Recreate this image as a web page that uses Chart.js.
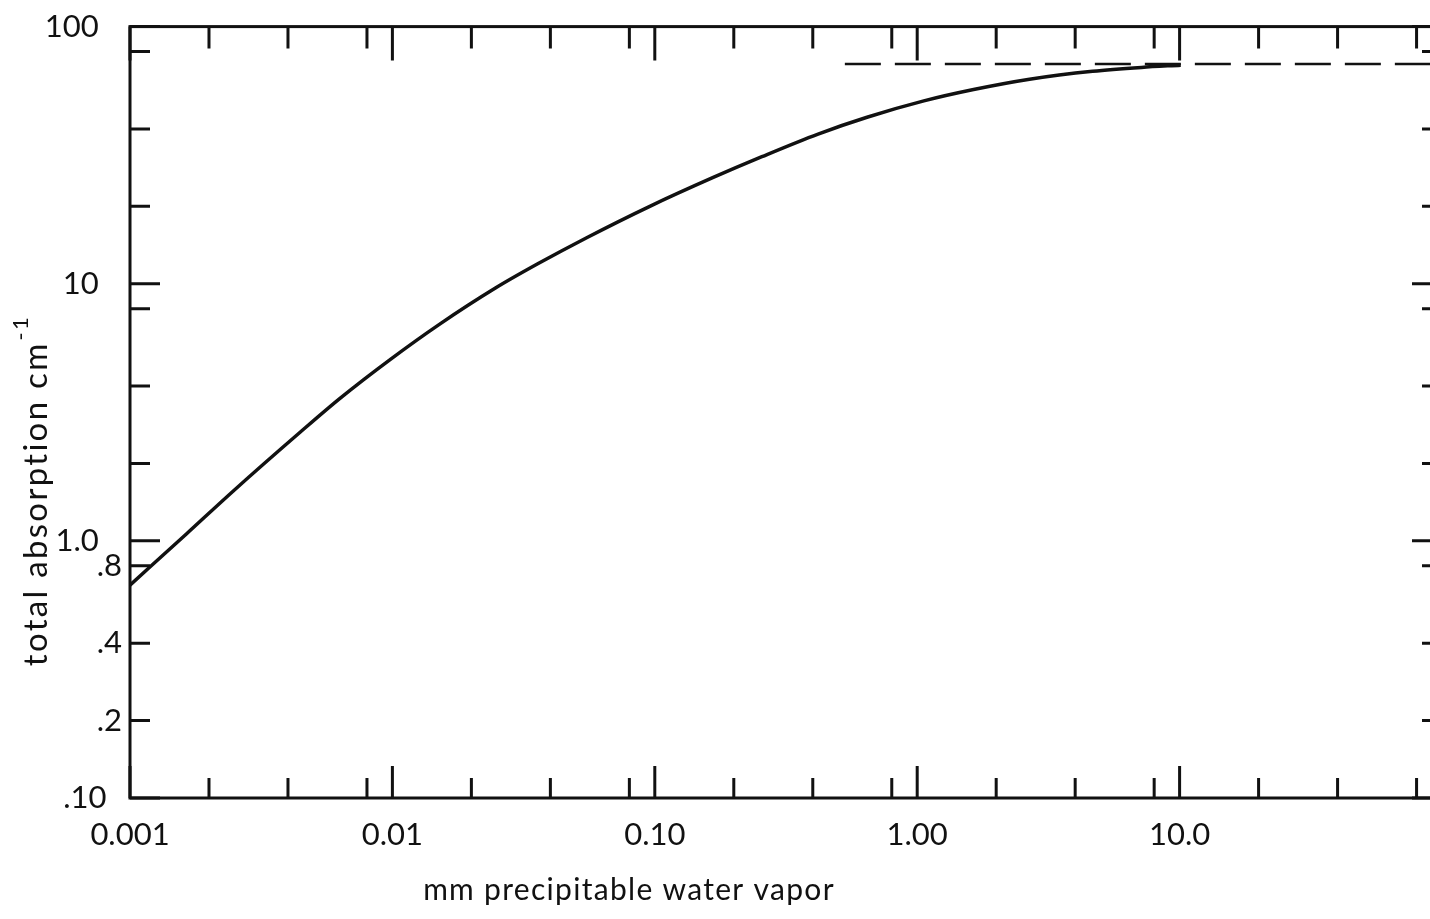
<!DOCTYPE html>
<html>
<head>
<meta charset="utf-8">
<title>total absorption - mm precipitable water vapor</title>
<script src="https://cdn.jsdelivr.net/npm/chart.js@4.4.1/dist/chart.umd.min.js"></script>
<style>
  html, body { margin: 0; padding: 0; background: #fff; overflow: hidden; }
  canvas { display: block; }
</style>
</head>
<body>
<canvas id="absorcionChart" width="1460" height="919"></canvas>
<script>
// curva: agua precipitable (mm) vs absorción total (cm^-1)
const vaporMm = [0.001, 0.00164, 0.00247, 0.00446, 0.00633, 0.00983, 0.0151, 0.0247, 0.0358, 0.055,
                 0.0957, 0.167, 0.256, 0.419, 0.644, 1.06, 1.64, 2.68, 4.66, 7.16, 10.1];
const absorcionTotal = [0.673, 1.064, 1.56, 2.65, 3.59, 5.08, 6.95, 9.62, 11.95, 15.1,
                        20.0, 25.9, 31.2, 38.2, 44.4, 51.4, 56.9, 62.4, 67.0, 69.4, 70.8];

// nivel de saturación (línea discontinua)
const saturacionX = [0.53, 100];
const saturacionY = [71.5, 71.5];

// ejes
const xDecadas = [0.001, 0.01, 0.1, 1, 10, 100];
const xEtiquetas = ["0.001", "0.01", "0.10", "1.00", "10.0", ""];
const subdivisiones = [2, 4, 8];
const yValores = [0.1, 0.2, 0.4, 0.8, 1, 10, 100];
const yEtiquetas = [".10\u2002", ".2", ".4", ".8", "1.0\u2003", "10\u2003", "100\u2003"];
const yDecadas = [0.1, 1, 10, 100];

const fuente = "Lato, 'DejaVu Sans', sans-serif";

// marco, marcas hacia dentro y títulos de los ejes
const marcoPlugin = {
    id: "marcoPlugin",
    afterDraw(chart) {
        const { ctx, chartArea: a, scales } = chart;
        const sx = scales.x, sy = scales.y;
        ctx.save();
        ctx.strokeStyle = "#111";
        ctx.lineWidth = 3;
        ctx.strokeRect(a.left, a.top, a.right - a.left, a.bottom - a.top);

        ctx.beginPath();
        xDecadas.forEach((d, i) => {
            const marcas = [[d, 32]];
            if (i < xDecadas.length - 1) subdivisiones.forEach(m => marcas.push([d * m, 20]));
            marcas.forEach(([v, largo]) => {
                const px = sx.getPixelForValue(v);
                ctx.moveTo(px, a.bottom); ctx.lineTo(px, a.bottom - largo);
                ctx.moveTo(px, a.top); ctx.lineTo(px, a.top + largo + 2);
            });
        });
        yDecadas.forEach((d, i) => {
            const marcas = [[d, 30]];
            if (i < yDecadas.length - 1) subdivisiones.forEach(m => marcas.push([d * m, 20]));
            marcas.forEach(([v, largo]) => {
                const py = sy.getPixelForValue(v);
                ctx.moveTo(a.left, py); ctx.lineTo(a.left + largo, py);
                ctx.moveTo(a.right, py); ctx.lineTo(a.right - largo, py);
            });
        });
        ctx.stroke();

        // títulos
        ctx.fillStyle = "#111";
        ctx.font = "30px " + fuente;
        ctx.letterSpacing = "1.3px";
        ctx.textAlign = "center";
        ctx.textBaseline = "middle";
        ctx.fillText("mm precipitable water vapor", 629, 890);

        ctx.translate(36, 491);
        ctx.rotate(-Math.PI / 2);
        ctx.letterSpacing = "2.3px";
        const base = "total absorption cm";
        ctx.font = "33px " + fuente;
        const wBase = ctx.measureText(base).width;
        ctx.font = "22px " + fuente;
        const wSup = ctx.measureText("-1").width;
        const x0 = -(wBase + wSup) / 2;
        ctx.textAlign = "left";
        ctx.font = "33px " + fuente;
        ctx.fillText(base, x0, 0);
        ctx.font = "22px " + fuente;
        ctx.fillText("-1", x0 + wBase + 1, -15);
        ctx.restore();
    }
};

const ctx = document.getElementById("absorcionChart").getContext("2d");
const absorcionChart = new Chart(ctx, {
    type: "line",
    data: {
        datasets: [
            {
                label: "absorción total",
                data: vaporMm.map((v, i) => ({ x: v, y: absorcionTotal[i] })),
                borderColor: "#111",
                borderWidth: 3.5,
                pointRadius: 0,
                cubicInterpolationMode: "monotone",
                fill: false
            },
            {
                label: "saturación",
                data: saturacionX.map((v, i) => ({ x: v, y: saturacionY[i] })),
                borderColor: "#111",
                borderWidth: 2.5,
                borderDash: [36, 14],
                pointRadius: 0,
                fill: false
            }
        ]
    },
    options: {
        responsive: false,
        animation: false,
        layout: { padding: { top: 23, right: 5, left: 0, bottom: 0 } },
        plugins: {
            legend: { display: false },
            tooltip: { enabled: false }
        },
        scales: {
            x: {
                type: "logarithmic",
                min: 0.001,
                max: 100,
                grid: { display: false, drawTicks: false },
                border: { display: false },
                afterBuildTicks: scale => { scale.ticks = xDecadas.map(v => ({ value: v })); },
                afterFit: scale => { scale.height = 121; },
                ticks: {
                    autoSkip: false,
                    maxRotation: 0,
                    padding: 18,
                    color: "#111",
                    font: { family: fuente, size: 31 },
                    callback: (v, i) => xEtiquetas[i]
                }
            },
            y: {
                type: "logarithmic",
                min: 0.1,
                max: 100,
                grid: { display: false, drawTicks: false },
                border: { display: false },
                afterBuildTicks: scale => { scale.ticks = yValores.map(v => ({ value: v })); },
                afterFit: scale => { scale.width = 130; },
                ticks: {
                    autoSkip: false,
                    padding: 8,
                    color: "#111",
                    font: { family: fuente, size: 31 },
                    callback: (v, i) => yEtiquetas[i]
                }
            }
        }
    },
    plugins: [marcoPlugin]
});
console.log("Gráfica de absorción dibujada.");
</script>
</body>
</html>
